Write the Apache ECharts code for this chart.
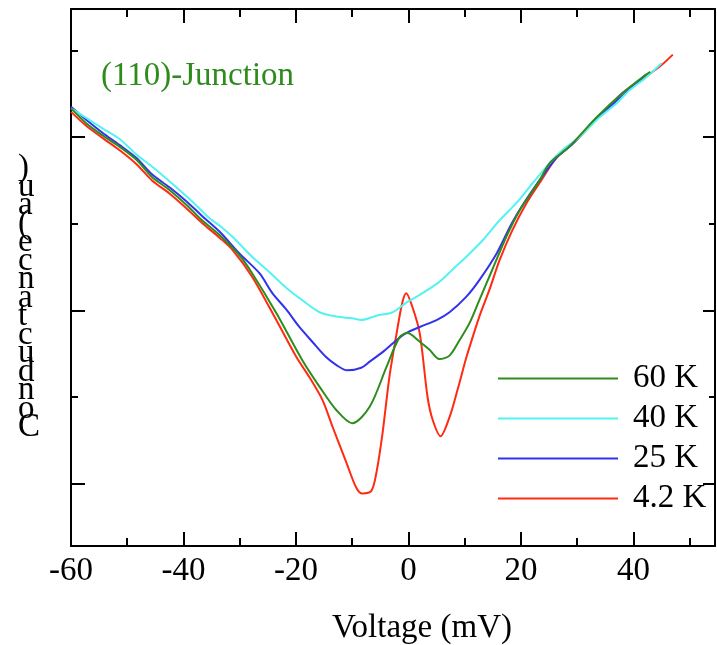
<!DOCTYPE html>
<html>
<head>
<meta charset="utf-8">
<script src="https://cdn.jsdelivr.net/npm/echarts@6/dist/echarts.min.js"></script>
<style>
  html, body { margin: 0; padding: 0; background: #fff; }
  #main { width: 717px; height: 645px; }
</style>
</head>
<body>
<div id="main"></div>
<script>
const FONT = "'Liberation Serif', 'Times New Roman', serif";

// tick positions
const majorX = [-60, -40, -20, 0, 20, 40];
const minorX = [-50, -30, -10, 10, 30, 50];
const majorY = [0, 2, 4];
const minorY = [1, 3, 5];

// 60 K (green)
const v60 = [-60, -57.3, -54.4, -51.4, -48.4, -45.6, -42.5, -39.5, -36.7, -33.6, -30.1, -27.8, -23.5, -18.9, -15.8, -12.8, -10.0, -6.9, -3.9, -1.6, -0.2, 2.0, 3.7, 5.5, 7.3, 9.1, 10.9, 12.6, 14.9, 17.4, 19.8, 23.3, 25.1, 28.6, 33.5, 38.1, 41.6, 43.0];
const g60 = [4.33, 4.16, 4.02, 3.89, 3.74, 3.54, 3.39, 3.22, 3.04, 2.87, 2.64, 2.43, 1.97, 1.43, 1.12, 0.85, 0.70, 0.89, 1.35, 1.69, 1.74, 1.64, 1.55, 1.44, 1.48, 1.66, 1.86, 2.12, 2.47, 2.85, 3.16, 3.50, 3.70, 3.89, 4.23, 4.51, 4.69, 4.75];

// 40 K (cyan)
const v40 = [-60, -57.3, -54.4, -51.4, -48.4, -45.6, -42.5, -38.5, -35.5, -33.6, -31.3, -27.8, -24.7, -21.7, -18.9, -15.8, -12.8, -10.0, -8.4, -5.7, -2.8, -0.4, 2.0, 5.5, 7.8, 10.3, 13.2, 16.2, 19.2, 22.1, 25.1, 27.4, 30.4, 33.5, 37.0, 39.3, 42.3, 45.0];
const g40 = [4.33, 4.22, 4.10, 3.98, 3.80, 3.66, 3.49, 3.26, 3.07, 2.98, 2.85, 2.62, 2.44, 2.26, 2.12, 1.98, 1.93, 1.91, 1.89, 1.94, 1.98, 2.09, 2.18, 2.33, 2.47, 2.62, 2.81, 3.04, 3.24, 3.47, 3.70, 3.85, 4.00, 4.20, 4.39, 4.54, 4.69, 4.85];

// 25 K (blue)
const v25 = [-60, -57.3, -54.4, -51.4, -48.4, -45.6, -42.5, -39.5, -36.7, -33.6, -30.1, -26.5, -24.2, -21.7, -19.4, -17.1, -14.6, -12.8, -10.9, -8.4, -6.9, -4.6, -2.1, -0.4, 2.0, 5.0, 7.3, 10.3, 12.6, 15.7, 18.5, 22.1, 26.3, 29.0, 33.5, 38.1, 42.0];
const g25 = [4.35, 4.20, 4.05, 3.91, 3.76, 3.57, 3.42, 3.26, 3.09, 2.91, 2.66, 2.43, 2.20, 2.01, 1.81, 1.64, 1.46, 1.37, 1.31, 1.34, 1.41, 1.52, 1.66, 1.74, 1.81, 1.89, 1.98, 2.16, 2.35, 2.66, 3.02, 3.39, 3.76, 3.91, 4.21, 4.48, 4.70];

// 4.2 K (red)
const v4 = [-60, -57.3, -54.4, -51.4, -48.4, -45.6, -42.5, -39.5, -36.7, -33.6, -31.3, -27.8, -23.5, -19.9, -17.6, -15.3, -13.5, -11.0, -9.3, -8.2, -6.6, -5.7, -4.6, -3.4, -2.1, -1.1, -0.4, 0.7, 2.0, 3.4, 4.3, 5.7, 7.3, 8.7, 10.3, 11.4, 12.6, 14.4, 16.2, 18.5, 21.0, 23.3, 26.3, 29.0, 33.5, 38.1, 42.3, 45.0, 47.0];
const g4 = [4.29, 4.13, 3.99, 3.85, 3.69, 3.50, 3.35, 3.18, 3.01, 2.84, 2.70, 2.39, 1.89, 1.46, 1.23, 0.97, 0.66, 0.24, -0.04, -0.11, -0.08, 0.13, 0.59, 1.23, 1.74, 2.09, 2.20, 2.04, 1.74, 1.00, 0.74, 0.55, 0.77, 1.08, 1.46, 1.69, 1.93, 2.24, 2.58, 2.93, 3.24, 3.47, 3.76, 3.91, 4.21, 4.51, 4.70, 4.83, 4.95];

const names = ['60 K', '40 K', '25 K', '4.2 K'];
const colors = ['#2e8c1c', '#55f2f2', '#3232ee', '#ff2a12'];

const zip = (xs, ys) => xs.map((x, i) => [x, ys[i]]);

function xAxisDef(position, ticks, len, showLine, labels) {
  return {
    type: 'value', position, min: -60, max: 54.5,
    splitLine: { show: false },
    axisLine: { show: showLine, onZero: false, lineStyle: { color: '#000', width: 2 } },
    axisTick: { show: true, inside: true, length: len, customValues: ticks,
      lineStyle: { color: '#000', width: 2 } },
    axisLabel: labels ? {
      show: true, customValues: majorX, margin: 9,
      color: '#000', fontFamily: FONT, fontSize: 33
    } : { show: false }
  };
}

function yAxisDef(position, ticks, len, showLine) {
  return {
    type: 'value', position, min: -0.715, max: 5.476,
    splitLine: { show: false },
    axisLine: { show: showLine, onZero: false, lineStyle: { color: '#000', width: 2 } },
    axisTick: { show: true, inside: true, length: len, customValues: ticks,
      lineStyle: { color: '#000', width: 2 } },
    axisLabel: { show: false }
  };
}

const xAxes = [
  xAxisDef('bottom', majorX, 14, true, true),
  xAxisDef('bottom', minorX, 8, false, false),
  xAxisDef('top', majorX, 14, true, false),
  xAxisDef('top', minorX, 8, false, false)
];
xAxes[0].name = 'Voltage (mV)';
xAxes[0].nameLocation = 'middle';
xAxes[0].nameGap = 66;
xAxes[0].nameTextStyle = { color: '#000', fontFamily: FONT, fontSize: 33, padding: [0, 0, 0, 58] };

const yAxes = [
  yAxisDef('left', majorY, 14, true),
  yAxisDef('left', minorY, 7, false),
  yAxisDef('right', majorY, 12, true),
  yAxisDef('right', minorY, 6, false)
];

function lineSeries(name, data, color) {
  return {
    name, type: 'line', data, symbol: 'none', smooth: 0.3,
    xAxisIndex: 0, yAxisIndex: 0,
    lineStyle: { color, width: 2 }, itemStyle: { color }
  };
}

const yLabel = 'Conductance(au)'.split('').reverse().join('\n');

const chart = echarts.init(document.getElementById('main'), null, { renderer: 'canvas' });
chart.setOption({
  animation: false,
  backgroundColor: '#fff',
  grid: { left: 71, right: 2, top: 9, bottom: 99, outerBoundsMode: 'none' },
  title: {
    text: '(110)-Junction', left: 101, top: 60, padding: 0,
    textStyle: { color: '#2e8c1c', fontFamily: FONT, fontSize: 33, fontWeight: 'normal' }
  },
  legend: {
    data: names, orient: 'vertical', left: 493, top: 357,
    icon: 'rect', itemWidth: 120, itemHeight: 2, itemGap: 7,
    textStyle: { color: '#000', fontFamily: FONT, fontSize: 33, padding: [0, 0, 0, 10] }
  },
  graphic: [{
    type: 'text', left: 18, top: 152,
    style: { text: yLabel, fill: '#000', font: '33px ' + FONT, lineHeight: 18.5, align: 'center' }
  }],
  xAxis: xAxes,
  yAxis: yAxes,
  series: [
    lineSeries(names[3], zip(v4, g4), colors[3]),
    lineSeries(names[2], zip(v25, g25), colors[2]),
    lineSeries(names[1], zip(v40, g40), colors[1]),
    lineSeries(names[0], zip(v60, g60), colors[0])
  ]
});
</script>
</body>
</html>
